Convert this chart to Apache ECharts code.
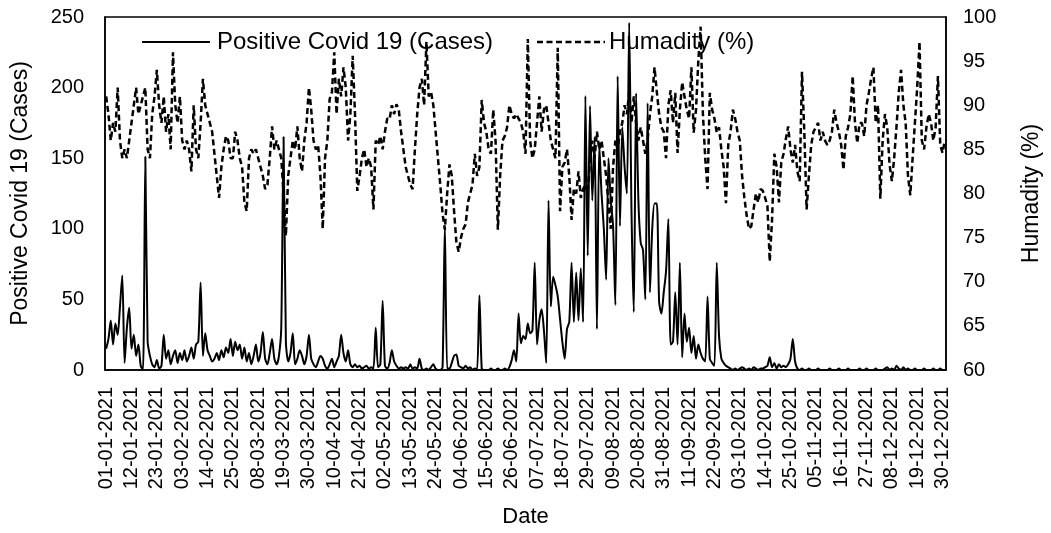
<!DOCTYPE html>
<html>
<head>
<meta charset="utf-8">
<script src="https://cdn.jsdelivr.net/npm/echarts@6/dist/echarts.min.js"></script>
<style>
html,body{margin:0;padding:0;background:#ffffff;}
#chart{width:1051px;height:533px;}
</style>
</head>
<body>
<div id="chart"></div>
<script>
// ---- data (daily, 01-01-2021 .. 31-12-2021) ----
const firstDay = [2021, 0, 1];
const labelEvery = 11;

const covidCases = [
  15,22,35,18,33,25,45,67,5,30,44,15,25,10,18,3,0,151,20,10,4,2,7,1,3,25,
  8,14,4,10,14,5,12,7,14,6,10,16,8,18,20,62,10,26,14,10,6,8,12,7,14,9,16,12,22,10,20,14,18,8,16,6,12,4,10,18,6,12,27,
  8,4,12,22,8,4,10,30,165,20,6,12,26,4,8,14,10,4,10,25,8,4,2,6,10,8,3,1,4,8,2,6,10,25,12,6,14,4,2,4,2,3,1,
  2,3,1,2,1,30,2,4,49,3,1,5,14,6,3,1,2,1,2,1,4,1,2,1,8,1,0,1,0,2,4,1,0,0,2,102,1,1,5,10,11,3,2,1,
  3,1,2,0,1,0,53,1,0,0,0,1,0,0,1,0,0,1,0,2,7,14,6,40,19,24,22,33,26,28,76,18,35,43,28,5,120,45,66,60,52,36,20,
  8,29,34,76,34,69,35,72,34,194,81,187,120,165,29,160,125,100,64,150,120,102,46,208,102,172,144,125,246,113,41,196,120,90,85,50,189,55,100,118,118,48,40,
  55,70,107,18,20,55,18,76,9,40,20,30,12,24,8,18,12,8,6,52,8,5,3,76,24,8,5,3,2,1,0,1,0,1,2,1,0,1,0,2,1,0,1,
  1,2,3,9,2,5,1,4,2,3,2,4,8,22,6,1,0,1,0,0,1,0,0,0,1,0,0,0,0,1,0,0,0,1,0,0,0,1,0,0,0,0,1,
  0,0,1,0,0,0,1,0,0,0,1,2,0,1,0,3,1,0,2,0,1,0,0,1,0,0,0,1,0,0,0,1,0,0,1,0,0
];

const humidity = [
  91,89,86,88,87,92,86,84,85,84,86,88,90,92,89,90,91,92,85,84,89,91,94,
  90,88,91,87,89,85,96,90,88,91,86,85,86,85,82.5,90,85,84,88,93,90,89,88,87,84.5,82,79.5,83,85,86.5,86,84,84,87,86,84,83,79,78,84,85,84.5,85,84,83,82,
  80.5,81,84,87.6,85,86,85,84,80,75.2,82,84,86,85,87.6,84,82.5,86,88,92,89.5,86,85,85.5,82,76,84,86,90.7,91.5,96,89,93,91,94.3,92,86,89,95.6,89,80.3,82,84,
  85,83,84,83,78.2,86,85.5,86.5,85,87,88.5,88.4,90,89,90.1,89.5,87,85,83,82,81,80.5,85,89,92,93,90,97.2,91,91.5,90,87,84,81,77.7,75.9,80,83.3,82,78,74.5,73.4,75,76,
  76.5,79,80,81,84.5,82,83,90.6,88,87,85,84.5,89.5,86,75.9,82,86,86.5,87.5,90,89,88.5,89,88.5,88,87,84.5,97.5,86,84,85,88,91,87,89.5,90,88,86,85,84,96.5,78,83,
  83.5,85,82,77,80.5,80,82.5,79.5,80.5,81,80,84,86,84,87,85,86,84,82,79,76,83,86,85,87,88,90,89,91.5,88,91,88,86,87.5,86,84.5,86,89,91,94.3,91.5,89,87.5,
  87,84,90,91.7,88,91.4,84.6,89.5,92.6,91,89.5,88.5,94.3,86.9,89.5,95,98.9,89,84,80.5,91.4,89.5,88.5,86.9,87.5,85,83,78.9,85.5,87,89.5,88.5,87,86,82,79.5,77.5,76,76.3,78.2,80,79,80.5,
  80.3,79.5,78.6,72.3,77,84.5,83,79,83.5,84.5,86.2,87.6,85,83.5,85.5,82.5,81.4,93.8,87,78.2,82,85.5,87,87.5,88,86,87,86,85.5,86,87,89.5,88,87,85.5,82.7,86.5,87.5,89,93.3,88,85.7,88,
  88,86.5,90,91.4,93,94.3,88,90,79.4,86,89,87.5,83.3,81.4,84,87.5,91.5,94,90,88,82,79.8,84,88,92,97.2,86,85,87.5,89,88,86,87.5,93.3,85.5,84.6,86
];

const leftAxisRange = [0, 250, 50];
const rightAxisRange = [60, 100, 5];
const seriesNames = ['Positive Covid 19 (Cases)', 'Humadity (%)'];
const axisTitles = ['Date', 'Positive Covid 19 (Cases)', 'Humadity (%)'];

// ---- categories (dates) ----
function pad(n){ return (n < 10 ? '0' : '') + n; }
const dates = [];
const t0 = Date.UTC(firstDay[0], firstDay[1], firstDay[2]);
for (let i = 0; i < covidCases.length; i++) {
  const d = new Date(t0 + i * 86400000);
  dates.push(pad(d.getUTCDate()) + '-' + pad(d.getUTCMonth() + 1) + '-' + d.getUTCFullYear());
}

const FONT = "'Liberation Sans', Arial, sans-serif";
const LEGEND_FONT = "24px 'Liberation Sans', Arial, sans-serif";
const chart = echarts.init(document.getElementById('chart'), null, {renderer: 'canvas'});

chart.setOption({
  animation: false,
  backgroundColor: '#ffffff',
  textStyle: {fontFamily: FONT, color: '#000'},
  grid: {left: 105, right: 101, top: 17, bottom: 162, show: true, borderColor: '#000', borderWidth: 1.5, backgroundColor: 'transparent'},
  // legend drawn as line samples + real text
  graphic: [
    {type: 'line', shape: {x1: 142, y1: 42, x2: 210, y2: 42}, style: {stroke: '#000', lineWidth: 2}, z: 10},
    {type: 'text', x: 217, y: 42, style: {text: seriesNames[0], font: LEGEND_FONT, fill: '#000', verticalAlign: 'middle', align: 'left'}, z: 10},
    {type: 'line', shape: {x1: 537, y1: 42, x2: 605, y2: 42}, style: {stroke: '#000', lineWidth: 2.5, lineDash: [6, 3.5]}, z: 10},
    {type: 'text', x: 609, y: 42, style: {text: seriesNames[1], font: LEGEND_FONT, fill: '#000', verticalAlign: 'middle', align: 'left'}, z: 10}
  ],
  xAxis: {
    type: 'category',
    data: dates,
    boundaryGap: true,
    axisLine: {show: true, lineStyle: {color: '#000', width: 1.5}},
    axisTick: {show: false},
    axisLabel: {interval: labelEvery - 1, rotate: 90, fontSize: 20, color: '#000', margin: 17, fontFamily: FONT},
    splitLine: {show: false},
    name: axisTitles[0], nameLocation: 'middle', nameGap: 136,
    nameTextStyle: {fontSize: 22, color: '#000', fontFamily: FONT}
  },
  yAxis: [
    {
      type: 'value', min: leftAxisRange[0], max: leftAxisRange[1], interval: leftAxisRange[2],
      axisLine: {show: true, lineStyle: {color: '#000', width: 1.5}},
      axisTick: {show: false},
      splitLine: {show: false},
      axisLabel: {fontSize: 20, color: '#000', margin: 21, fontFamily: FONT},
      name: axisTitles[1], nameLocation: 'middle', nameGap: 73, nameRotate: 90,
      nameTextStyle: {fontSize: 23, color: '#000', fontFamily: FONT}
    },
    {
      type: 'value', min: rightAxisRange[0], max: rightAxisRange[1], interval: rightAxisRange[2],
      position: 'right',
      axisLine: {show: true, lineStyle: {color: '#000', width: 1.5}},
      axisTick: {show: false},
      splitLine: {show: false},
      axisLabel: {fontSize: 20, color: '#000', margin: 17, fontFamily: FONT},
      name: axisTitles[2], nameLocation: 'middle', nameGap: 74, nameRotate: 90,
      nameTextStyle: {fontSize: 23, color: '#000', fontFamily: FONT}
    }
  ],
  series: [
    {
      name: seriesNames[0], type: 'line', yAxisIndex: 0, data: covidCases,
      symbol: 'none', smooth: 0.25,
      lineStyle: {color: '#000', width: 2},
      itemStyle: {color: '#000'},
      z: 3
    },
    {
      name: seriesNames[1], type: 'line', yAxisIndex: 1, data: humidity,
      symbol: 'none', smooth: false,
      lineStyle: {color: '#000', width: 2.5, type: [6, 3.5]},
      itemStyle: {color: '#000'},
      z: 2
    }
  ]
});
</script>
</body>
</html>
